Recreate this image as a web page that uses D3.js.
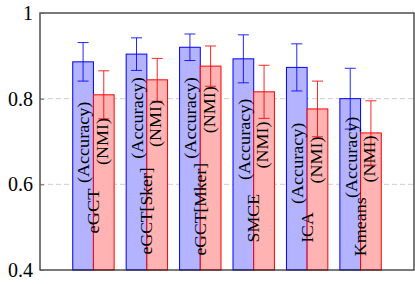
<!DOCTYPE html>
<html><head><meta charset="utf-8">
<script src="https://cdn.jsdelivr.net/npm/d3@7"></script>
<style>
html,body{margin:0;padding:0;background:#fff;}
svg{display:block;}
text{font-family:"Liberation Serif","DejaVu Serif",serif;fill:#000;}
</style></head>
<body>
<svg id="chart" width="415" height="284"></svg>
<script>
const categories = ["eGCT", "eGCT[Sker]", "eGCT[Mker]", "SMCE", "ICA", "Kmeans"];
const accuracy    = [0.886, 0.904, 0.920, 0.893, 0.873, 0.800];
const accuracyErr = [0.045, 0.038, 0.031, 0.056, 0.055, 0.071];
const nmi         = [0.809, 0.844, 0.876, 0.816, 0.776, 0.720];
const nmiErr      = [0.056, 0.050, 0.047, 0.062, 0.065, 0.075];
const yTicks = [0.4, 0.6, 0.8, 1];
const gridTicks = [0.6, 0.8];
const accLabel = "(Accuracy)";
const nmiLabel = "(NMI)";
// label centres, in data units of the y axis
const accLabelAt  = [0.698, 0.755, 0.755, 0.705, 0.649, 0.663];
const nmiLabelAt  = [0.700, 0.742, 0.774, 0.692, 0.657, 0.659];
const nameLabelAt = [0.538, 0.538, 0.542, 0.521, 0.499, 0.501];

// text lengths (Computer Modern proportions at ~16.8px)
const nameLen = [45, 87, 92.5, 48.5, 30.5, 59];
const accLen = 81.5, nmiLen = 47;

const W = 415, H = 284;
const m = {left: 40, right: 1, top: 13, bottom: 14};
const svg = d3.select("#chart");

const x = d3.scaleLinear().domain([0, categories.length + 1]).range([m.left, W - m.right]);
const y = d3.scaleLinear().domain([0.4, 1]).range([H - m.bottom, m.top]);
const barW = 20.7;

// grid
svg.append("g").selectAll("line").data(gridTicks).join("line")
  .attr("x1", x(0)).attr("x2", x(categories.length + 1))
  .attr("y1", d => y(d)).attr("y2", d => y(d))
  .attr("stroke", "#cfcfcf").attr("stroke-width", 1).attr("stroke-dasharray", "5,3");

const groups = categories.map((c, i) => ({c, i, cx: x(i + 1)}));

// accuracy bars
svg.append("g").selectAll("rect").data(groups).join("rect")
  .attr("x", d => d.cx - barW).attr("width", barW)
  .attr("y", d => y(accuracy[d.i])).attr("height", d => y(0.4) - y(accuracy[d.i]))
  .attr("fill", "rgb(179,179,255)").attr("stroke", "rgb(0,0,255)").attr("stroke-width", 1);
// nmi bars
svg.append("g").selectAll("rect").data(groups).join("rect")
  .attr("x", d => d.cx).attr("width", barW)
  .attr("y", d => y(nmi[d.i])).attr("height", d => y(0.4) - y(nmi[d.i]))
  .attr("fill", "rgb(255,179,179)").attr("stroke", "rgb(255,0,0)").attr("stroke-width", 1);

// error bars
function errBars(vals, errs, dx, color) {
  const g = svg.append("g").attr("stroke", color).attr("stroke-width", 1).attr("opacity", 0.85);
  groups.forEach(d => {
    const cx = d.cx + dx;
    const hi = y(vals[d.i] + errs[d.i]), lo = y(vals[d.i] - errs[d.i]);
    g.append("line").attr("x1", cx).attr("x2", cx).attr("y1", hi).attr("y2", lo);
    g.append("line").attr("x1", cx - 5.5).attr("x2", cx + 5.5).attr("y1", hi).attr("y2", hi);
    g.append("line").attr("x1", cx - 5.5).attr("x2", cx + 5.5).attr("y1", lo).attr("y2", lo);
  });
}
errBars(accuracy, accuracyErr, -barW / 2, "rgb(0,0,255)");
errBars(nmi, nmiErr, barW / 2, "rgb(255,0,0)");

// rotated labels
function rotLabels(textFn, posArr, lenFn, dx, size) {
  svg.append("g").selectAll("text").data(groups).join("text")
    .attr("transform", d => `translate(${d.cx + dx},${y(posArr[d.i])}) rotate(-90)`)
    .attr("text-anchor", "middle").attr("dominant-baseline", "central")
    .attr("font-size", size).attr("font-family", "Liberation Serif, DejaVu Serif, serif")
    .attr("textLength", d => lenFn(d.i)).attr("lengthAdjust", "spacingAndGlyphs")
    .text(d => textFn(d));
}
rotLabels(() => accLabel, accLabelAt, () => accLen, -9.5, 17);
rotLabels(() => nmiLabel, nmiLabelAt, () => nmiLen, 9, 17);
rotLabels(d => d.c, nameLabelAt, i => nameLen[i], 0, 17);

// frame
svg.append("rect").attr("x", x(0)).attr("y", y(1))
  .attr("width", x(categories.length + 1) - x(0)).attr("height", y(0.4) - y(1))
  .attr("fill", "none").attr("stroke", "#222").attr("stroke-width", 1.2);

// y axis
const yAxis = d3.axisLeft(y).tickValues(yTicks).tickSize(-4).tickPadding(7)
  .tickFormat(d => d === 1 ? "1" : d3.format(".1f")(d));
const ga = svg.append("g").attr("transform", `translate(${x(0)},0)`).call(yAxis);
ga.attr("font-family", null);
ga.select(".domain").remove();
ga.selectAll(".tick line").attr("stroke", "#666");
ga.selectAll(".tick text").attr("font-size", 20).attr("font-family", "Liberation Serif, DejaVu Serif, serif").attr("fill", "#111");
</script>
</body></html>
